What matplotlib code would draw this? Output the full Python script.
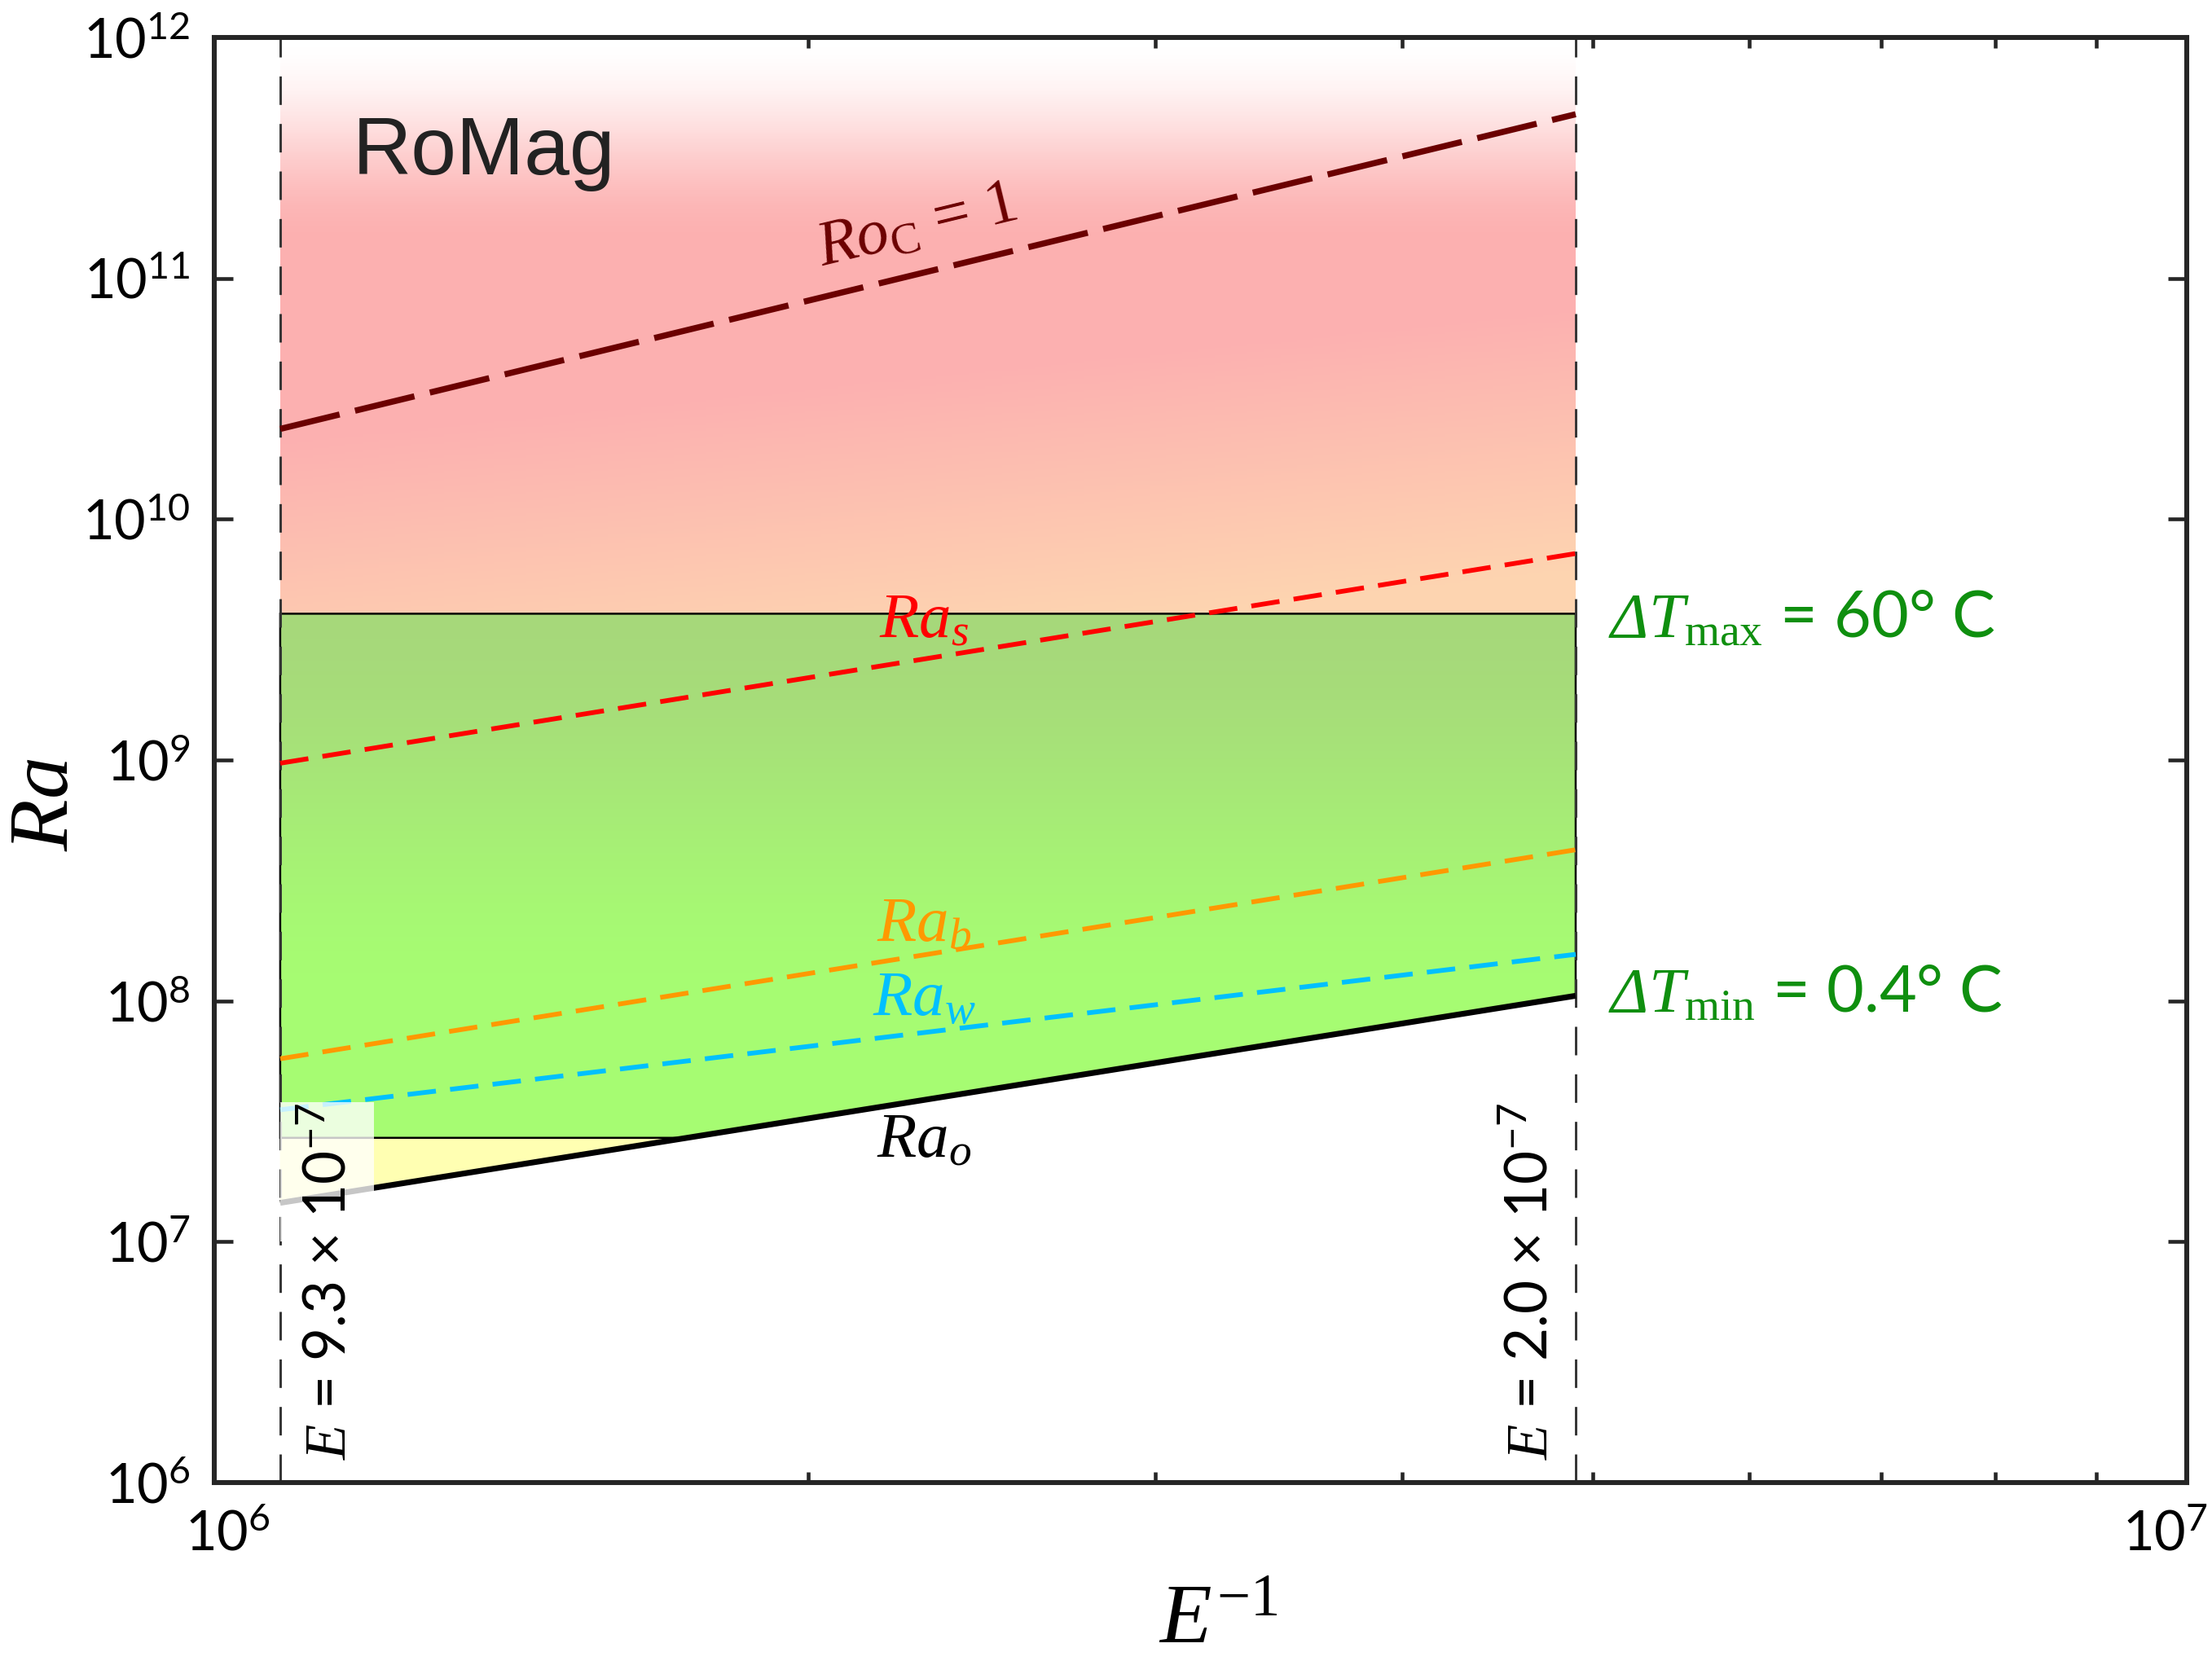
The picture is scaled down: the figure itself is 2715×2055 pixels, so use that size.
import numpy as np
import matplotlib
matplotlib.use("Agg")
import matplotlib.pyplot as plt
from matplotlib.patches import Polygon
from matplotlib.ticker import LogLocator, NullLocator, NullFormatter
from matplotlib.transforms import ScaledTranslation

plt.rcParams['font.family'] = ['Lato', 'DejaVu Sans']
plt.rcParams['mathtext.fontset'] = 'custom'
plt.rcParams['mathtext.rm'] = 'Liberation Serif'
plt.rcParams['mathtext.it'] = 'Liberation Serif:italic'
plt.rcParams['mathtext.bf'] = 'Liberation Serif:bold'
plt.rcParams['mathtext.sf'] = 'Liberation Serif:italic'   # used for the italic Delta

# --- data (values at the two bounding E^-1) ---
e_inv = [1.08e6, 4.9e6]          # E = 9.3e-7 and E = 2.0e-7
ra_roc = [2.37e10, 4.8e11]       # Ro_C = 1
ra_s = [9.7e8, 7.2e9]
ra_b = [5.75e7, 4.24e8]
ra_w = [3.53e7, 1.56e8]
ra_o = [1.45e7, 1.05e8]
ra_dt_max = 4.05e9               # dT = 60 C
ra_dt_min = 2.7e7                # dT = 0.4 C
e_labels = [r"$E$ = 9.3 × $\mathdefault{10^{-7}}$", r"$E$ = 2.0 × $\mathdefault{10^{-7}}$"]
xlim = [1e6, 1e7]
ylim = [1e6, 1e12]

W, H, DPI = 2715, 2055, 300
fig = plt.figure(figsize=(W / DPI, H / DPI), dpi=DPI)
ax = fig.add_axes([263 / W, 1 - 1820 / H, (2684 - 263) / W, (1820 - 46) / H])
ax.set_xscale("log"); ax.set_yscale("log")
ax.set_xlim(xlim); ax.set_ylim(ylim)

lx = np.log10(e_inv)
def loglin(x, ends):
    ly = np.log10(ends)
    return 10 ** (ly[0] + (ly[1] - ly[0]) * (np.log10(x) - lx[0]) / (lx[1] - lx[0]))

# where Ra_o crosses the dT_min line
lo = np.log10(ra_o)
x_cross = 10 ** (lx[0] + (np.log10(ra_dt_min) - lo[0]) * (lx[1] - lx[0]) / (lo[1] - lo[0]))

def smooth(t):
    t = np.clip(t, 0, 1)
    return t * t * (3 - 2 * t)

def mesh(x0, x1, y0, y1, colfun, clip=None, nx=80, ny=300):
    xs = np.logspace(np.log10(x0), np.log10(x1), nx)
    ys = np.logspace(np.log10(y0), np.log10(y1), ny)
    xc = 0.5 * (np.log10(xs[1:]) + np.log10(xs[:-1]))
    yc = 0.5 * (np.log10(ys[1:]) + np.log10(ys[:-1]))
    XC, YC = np.meshgrid(xc, yc)
    rgb = np.clip(colfun(XC, YC), 0, 1)
    m = ax.pcolormesh(xs, ys, rgb, shading="flat", linewidth=0,
                      antialiased=False, rasterized=True, zorder=1)
    if clip is not None:
        m.set_clip_path(clip)
    return m

# red / pink region above dT_max
pink = np.array([252, 176, 176]) / 255
peach = np.array([253, 212, 176]) / 255
def red_col(X, Y):
    xf = (X - lx[0]) / (lx[1] - lx[0])
    s = np.clip((10.6 - Y) / 1.1 + 0.5 * (xf - 0.5), 0, 1)[..., None]
    c = pink + s * (peach - pink)
    w = smooth((Y - 11.15) / 0.85)[..., None]
    return c * (1 - w) + w
mesh(e_inv[0], e_inv[1], ra_dt_max, ylim[1], red_col)

# green region
g_top = np.array([166, 216, 122]) / 255
g_bot = np.array([166, 252, 114]) / 255
def green_col(X, Y):
    t = smooth((np.log10(ra_dt_max) - Y) / 1.6)[..., None]
    return g_top + t * (g_bot - g_top)
green_poly = Polygon([(e_inv[0], ra_dt_max), (e_inv[1], ra_dt_max), (e_inv[1], ra_o[1]),
                      (x_cross, ra_dt_min), (e_inv[0], ra_dt_min)], closed=True,
                     facecolor="none", edgecolor="black", linewidth=0.6, zorder=2)
ax.add_patch(green_poly)
mesh(e_inv[0], e_inv[1], ra_dt_min * 0.5, ra_dt_max, green_col, clip=green_poly)

# yellow wedge below dT_min
ax.add_patch(Polygon([(e_inv[0], ra_dt_min), (x_cross, ra_dt_min), (e_inv[0], ra_o[0])],
                     closed=True, facecolor="#ffffb2", edgecolor="none", zorder=1))

# curves
xx = np.array(e_inv)
ax.plot(xx, loglin(xx, ra_roc), color="#6b0000", lw=1.8, dashes=(10, 2.6), zorder=3)
ax.plot(xx, loglin(xx, ra_s), color="#ff0000", lw=1.4, dashes=(6, 3), zorder=3)
ax.plot(xx, loglin(xx, ra_b), color="#ff9900", lw=1.4, dashes=(6, 3), zorder=3)
ax.plot(xx, loglin(xx, ra_w), color="#00c0ff", lw=1.4, dashes=(6, 3), zorder=3)
ax.plot(xx, loglin(xx, ra_o), color="black", lw=1.7, zorder=3, solid_capstyle="butt")

# Ekman bounds
for xv in e_inv:
    ax.plot([xv, xv], ylim, color="#333333", lw=0.7, dashes=(12, 8), zorder=2.5)

# translucent box left behind in the corner
ax.add_patch(Polygon([(e_inv[0], 1.0e7), (1.205e6, 1.0e7), (1.205e6, 3.8e7), (e_inv[0], 3.8e7)],
                     closed=True, facecolor="white", alpha=0.78, edgecolor="none", zorder=4))

# labels
ax.text(1.175e6, 3.3e11, "RoMag", fontsize=24, family="Liberation Sans", color="#222222",
        ha="left", va="center", zorder=6)
p0 = ax.transData.transform((xx[0], ra_roc[0])); p1 = ax.transData.transform((xx[1], ra_roc[1]))
ang = np.degrees(np.arctan2(p1[1] - p0[1], p1[0] - p0[0]))
ax.text(2.27e6, 1.64e11, r"$Ro_{\mathrm{C}}$ = $\mathit{1}$", color="#6b0000", fontsize=19,
        family="Liberation Serif", rotation=ang, ha="center", va="center", zorder=6)
for name, yv, col in [("s", 3.84e9, "#ff0000"), ("b", 2.1e8, "#ff9900"),
                      ("w", 1.03e8, "#00c0ff"), ("o", 2.66e7, "black")]:
    ax.text(2.29e6, yv, r"$Ra_{%s}$" % name, color=col, fontsize=19, ha="center", va="center", zorder=6)

green = "#0f8f0f"
ax.text(5.09e6, 3.84e9, r"$\mathsf{\Delta}\mathit{T}_{\mathrm{max}}$ = 60° C", color=green, fontsize=19,
        ha="left", va="center", zorder=6)
ax.text(5.09e6, 1.07e8, r"$\mathsf{\Delta}\mathit{T}_{\mathrm{min}}$ = 0.4° C", color=green, fontsize=19,
        ha="left", va="center", zorder=6)

for xv, lab in zip([1.143e6, 4.65e6], e_labels):
    ax.text(xv, 1.24e6, lab, rotation=90, fontsize=17, color="black",
            ha="center", va="bottom", zorder=6)

# axes styling
ax.set_xlabel(r"$E^{\mathit{-1}}$", fontsize=25, labelpad=6)
ax.set_ylabel(r"$Ra$", fontsize=25, labelpad=0)
ax.xaxis.label.set_x(0.509)
ax.yaxis.label.set_y(0.469)
ax.set_xticks(xlim)
ax.yaxis.set_major_locator(LogLocator(base=10, numticks=20))
ax.yaxis.set_minor_locator(NullLocator())
ax.xaxis.set_minor_locator(LogLocator(base=10, subs=np.arange(2, 10), numticks=20))
ax.xaxis.set_minor_formatter(NullFormatter())
for sp in ax.spines.values():
    sp.set_linewidth(1.45); sp.set_color("#262626"); sp.set_zorder(7)
ax.tick_params(which="both", direction="in", top=True, right=True, width=1.1, colors="#262626",
               labelcolor="black")
ax.tick_params(which="major", length=5.5, labelsize=16)
ax.tick_params(which="minor", length=3.1)
ax.tick_params(axis="x", which="major", pad=8)
ax.tick_params(axis="y", which="major", pad=7)

# nudge the two x tick labels like in the original (keep 10^7 inside the figure)
t6, t7 = ax.get_xticklabels()
t6.set_transform(t6.get_transform() + ScaledTranslation(16 / DPI, 0, fig.dpi_scale_trans))
t7.set_horizontalalignment("right")
t7.set_transform(t7.get_transform() + ScaledTranslation(26 / DPI, 0, fig.dpi_scale_trans))

fig.savefig("out.png", dpi=DPI)
